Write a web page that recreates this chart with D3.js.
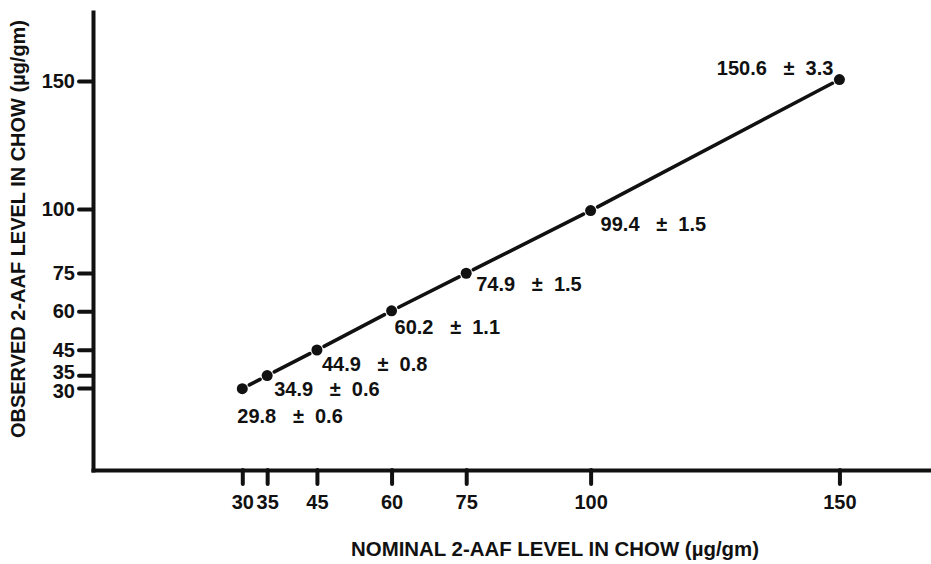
<!DOCTYPE html>
<html>
<head>
<meta charset="utf-8">
<script src="https://cdn.jsdelivr.net/npm/d3@7"></script>
<style>
  body { margin: 0; background: #fff; }
  text { font-family: "Liberation Sans", Arial, sans-serif; font-weight: bold; fill: #111; }
  .val { white-space: pre; }
</style>
</head>
<body>
<svg id="chart" width="931" height="564"></svg>
<script>
// nominal vs observed 2-AAF levels
const nominal = [30, 35, 45, 60, 75, 100, 150];
const observed = [29.8, 34.9, 44.9, 60.2, 74.9, 99.4, 150.6];
const stdErr = [0.6, 0.6, 0.8, 1.1, 1.5, 1.5, 3.3];
const xTicks = [30, 35, 45, 60, 75, 100, 150];
const yTicks = [30, 35, 45, 60, 75, 100, 150];

// label placement next to each dot (px)
const labelOffsets = [[-5, 34, "start"], [7, 20, "start"], [5, 21, "start"], [3, 23, "start"],
                      [10, 18, "start"], [10, 20, "start"], [-6, -5, "end"]];

const svg = d3.select("#chart");
const x = d3.scaleLinear().domain([0, 168]).range([93, 929]);
const y = d3.scaleLinear().domain([-2, 177]).range([470, 12]);

const font = '"Liberation Sans", Arial, sans-serif';

// x axis
const gx = svg.append("g")
    .attr("transform", `translate(0, ${y(-2)})`)
    .call(d3.axisBottom(x).tickValues(xTicks).tickSize(14).tickSizeOuter(0).tickPadding(11));

// y axis
const gy = svg.append("g")
    .attr("transform", `translate(${x(0)}, 0)`)
    .call(d3.axisLeft(y).tickValues(yTicks).tickSize(14).tickSizeOuter(0).tickPadding(4));

[gx, gy].forEach(g => {
    g.select(".domain").attr("stroke", "#111").attr("stroke-width", 4).attr("stroke-linecap", "square");
    g.selectAll(".tick line").attr("stroke", "#111").attr("stroke-width", 4).attr("stroke-linecap", "round");
    g.selectAll(".tick text").style("font-size", "20px").attr("fill", "#111")
        .style("font-family", font).style("font-weight", "bold");
});

// 30 and 35 sit very close on the y axis: spread their labels a little
gy.selectAll(".tick text")
    .attr("dy", d => d === 35 ? "0.14em" : d === 30 ? "0.45em" : "0.32em");

const pts = nominal.map((d, i) => ({ px: x(d), py: y(observed[i]), i }));

// line drawn as pieces with small gaps around each dot
const gap = 8;
const segs = d3.pairs(pts).map(([a, b]) => {
    const dx = b.px - a.px, dy = b.py - a.py, len = Math.hypot(dx, dy);
    const ux = dx / len, uy = dy / len;
    return [[a.px + ux * gap, a.py + uy * gap], [b.px - ux * gap, b.py - uy * gap]];
});
svg.append("g").selectAll("path")
    .data(segs)
    .enter()
    .append("path")
    .attr("d", d3.line())
    .attr("stroke", "#111")
    .attr("stroke-width", 3.6)
    .attr("stroke-linecap", "round")
    .attr("fill", "none");

// dots
svg.append("g").selectAll("circle")
    .data(pts)
    .enter()
    .append("circle")
    .attr("cx", d => d.px)
    .attr("cy", d => d.py)
    .attr("r", 5.5)
    .attr("fill", "#111");

// value labels
svg.append("g").selectAll("text")
    .data(pts)
    .enter()
    .append("text")
    .attr("class", "val")
    .attr("x", d => d.px + labelOffsets[d.i][0])
    .attr("y", d => d.py + labelOffsets[d.i][1])
    .attr("text-anchor", d => labelOffsets[d.i][2])
    .style("font-size", "20px")
    .text(d => `${observed[d.i].toFixed(1)}   \u00B1  ${stdErr[d.i].toFixed(1)}`);

// axis titles
svg.append("text")
    .attr("x", 555)
    .attr("y", 556)
    .attr("text-anchor", "middle")
    .attr("textLength", 408)
    .attr("lengthAdjust", "spacingAndGlyphs")
    .style("font-size", "20px")
    .text("NOMINAL 2-AAF LEVEL IN CHOW (\u00B5g/gm)");

svg.append("text")
    .attr("transform", "translate(25, 229) rotate(-90)")
    .attr("text-anchor", "middle")
    .attr("textLength", 418)
    .attr("lengthAdjust", "spacingAndGlyphs")
    .style("font-size", "20px")
    .text("OBSERVED 2-AAF LEVEL IN CHOW (\u00B5g/gm)");
</script>
</body>
</html>
